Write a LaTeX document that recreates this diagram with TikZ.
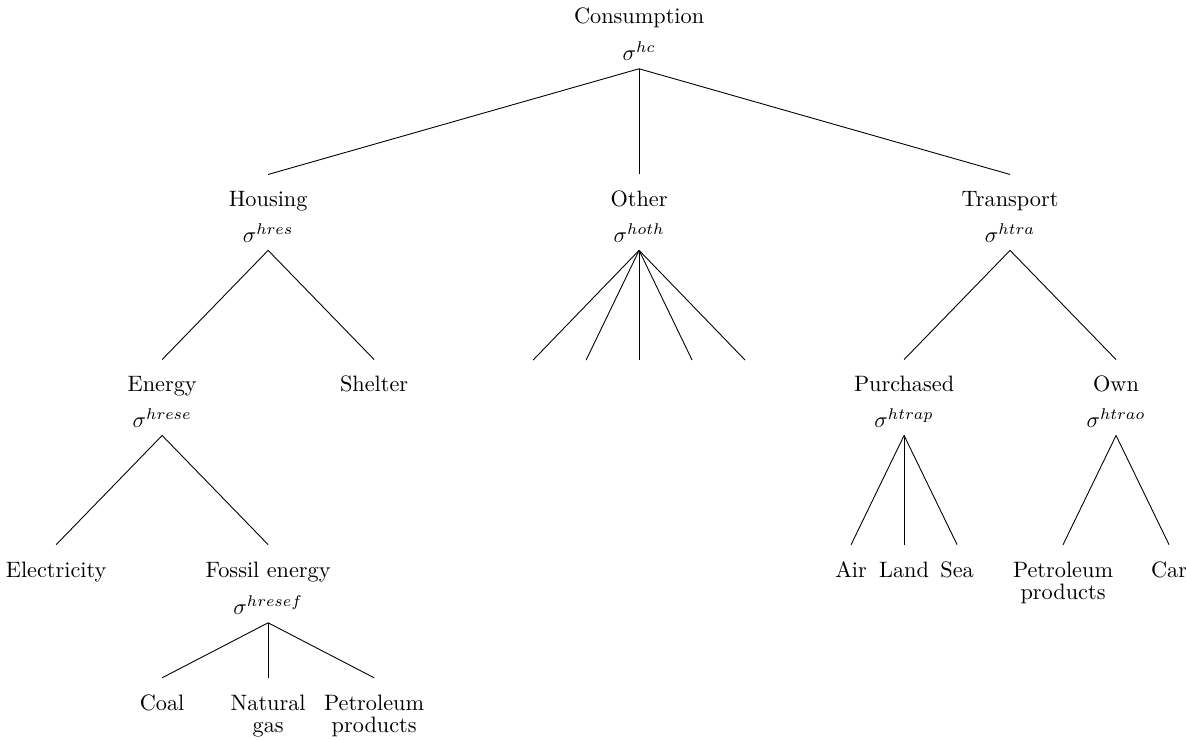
\documentclass[tikz,border=0pt]{standalone}
\usepackage{amsmath}
\usepackage{tikz}
\usetikzlibrary{positioning}

\tikzset{
  cat/.style={anchor=base, text height=11pt},
  elas/.style={anchor=base},
}
\newcommand{\twolines}[2]{\begin{tabular}[t]{@{}c@{}}#1\\[-2pt]#2\end{tabular}}

\begin{document}
\begin{tikzpicture}[x=0.836cm, y=1cm]
\useasboundingbox (-12.06,0.363) rectangle (10.32,-11.31);

% top nest
\node[cat] (cons) at (0,0) {Consumption};
\node[elas] (consS) at ([yshift=-17pt]cons.base) {$\sigma^{hc}$};

% second level
\node[cat] (hous) at (-7,-2.9) {Housing};
\node[elas] (housS) at ([yshift=-16pt]hous.base) {$\sigma^{hres}$};
\node[cat] (oth) at (0,-2.9) {Other};
\node[elas] (othS) at ([yshift=-16pt]oth.base) {$\sigma^{hoth}$};
\node[cat] (tran) at (7,-2.9) {Transport};
\node[elas] (tranS) at ([yshift=-16pt]tran.base) {$\sigma^{htra}$};

% third level
\node[cat] (ener) at (-9,-5.82) {Energy};
\node[elas] (enerS) at ([yshift=-16pt]ener.base) {$\sigma^{hrese}$};
\node[cat] (shel) at (-5,-5.82) {Shelter};
\node[cat] (purc) at (5,-5.82) {Purchased};
\node[elas] (purcS) at ([yshift=-16pt]purc.base) {$\sigma^{htrap}$};
\node[cat] (own) at (9,-5.82) {Own};
\node[elas] (ownS) at ([yshift=-16pt]own.base) {$\sigma^{htrao}$};

% fourth level
\node[cat] (elec) at (-11,-8.74) {Electricity};
\node[cat] (foss) at (-7,-8.74) {Fossil energy};
\node[elas] (fossS) at ([yshift=-17pt]foss.base) {$\sigma^{hresef}$};
\node[cat] (air) at (4,-8.74) {Air};
\node[cat] (land) at (5,-8.74) {Land};
\node[cat] (sea) at (6,-8.74) {Sea};
\node[cat] (opet) at (8,-8.74) {\twolines{Petroleum}{products}};
\node[cat] (car) at (10,-8.74) {Car};

% fossil fuels
\node[cat] (coal) at (-9,-10.84) {Coal};
\node[cat] (gas) at (-7,-10.84) {\twolines{Natural}{gas}};
\node[cat] (hpet) at (-5,-10.84) {\twolines{Petroleum}{products}};

% branches
\foreach \a/\b in {consS/hous, consS/oth, consS/tran,
  housS/ener, housS/shel, tranS/purc, tranS/own,
  enerS/elec, enerS/foss, purcS/air, purcS/land, purcS/sea,
  ownS/opet, ownS/car, fossS/coal, fossS/gas, fossS/hpet}
  \draw (\a.south) -- (\b.north);

% other goods, no labels
\foreach \i [count=\k] in {-2,...,2} {
  \coordinate (othC\k) at (\i,-5.317);
  \draw (othS.south) -- (othC\k);
}
\end{tikzpicture}
\end{document}
